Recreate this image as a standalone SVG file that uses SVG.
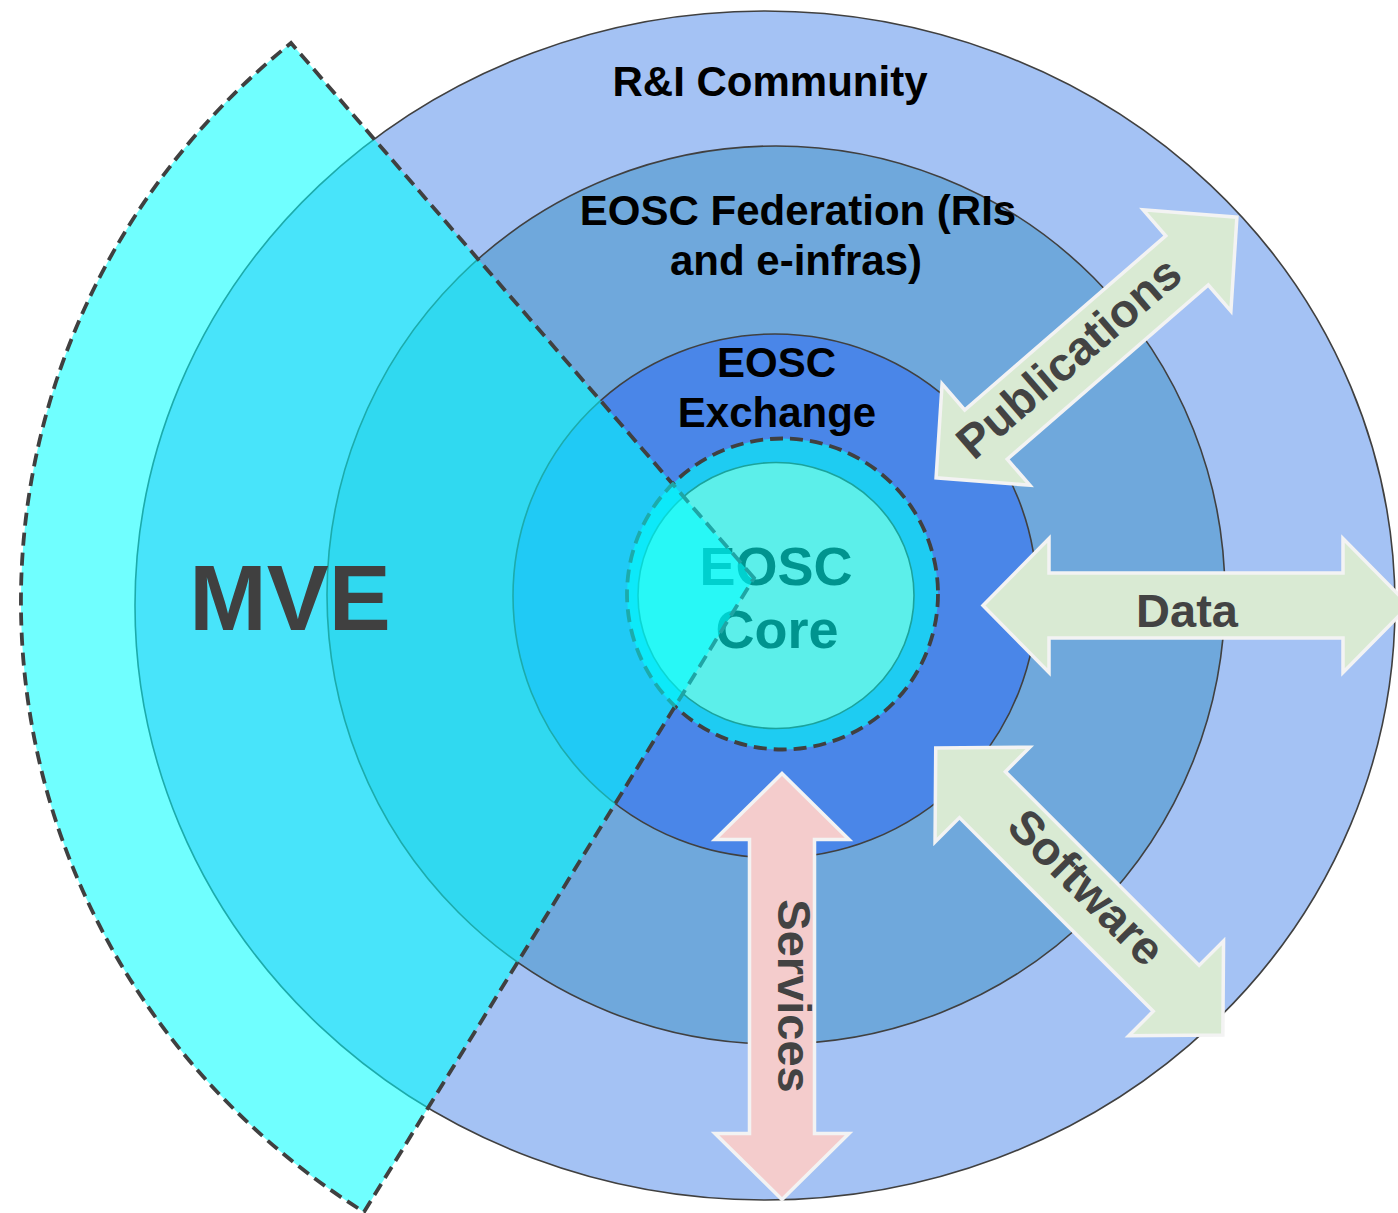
<svg xmlns="http://www.w3.org/2000/svg" width="1398" height="1213" viewBox="0 0 1398 1213">
<style>
.ring{stroke:#404040;stroke-width:1.6}
.lbl{font-family:"Liberation Sans",Arial,sans-serif;font-weight:bold;font-size:42px;fill:#000;text-anchor:middle}
.core{font-family:"Liberation Sans",Arial,sans-serif;font-weight:bold;font-size:54px;fill:#00948F;text-anchor:middle}
.arr{fill:#D9EAD3;stroke:#F3F3F3;stroke-width:3.5;stroke-linejoin:miter}
.arrp{fill:#F4CCCC;stroke:#F3F3F3;stroke-width:3.5;stroke-linejoin:miter}
.atx{font-family:"Liberation Sans",Arial,sans-serif;font-weight:bold;font-size:47px;fill:#434343;text-anchor:middle}
.dash{fill:none;stroke-width:3.8;stroke-dasharray:13 7}
</style>
<defs>
<mask id="outCore" maskUnits="userSpaceOnUse" x="0" y="0" width="1398" height="1213">
<rect x="0" y="0" width="1398" height="1213" fill="#fff"/>
<circle cx="782.5" cy="594" r="157" fill="#000"/>
</mask>
<clipPath id="inCore"><circle cx="782.5" cy="594" r="157"/></clipPath>
<path id="mvePath" d="M 754 578 L 291 43 A 745 725 0 0 0 364 1212 Z"/>
</defs>

<g id="ri-community">
<ellipse class="ring" cx="765" cy="605.5" rx="630" ry="594.5" fill="#A4C2F4"/>
<text class="lbl" x="770" y="96">R&amp;I Community</text>
</g>
<g id="eosc-federation">
<circle class="ring" cx="776" cy="595" r="449" fill="#6FA8DC"/>
<text class="lbl" x="798" y="225">EOSC Federation (RIs</text>
<text class="lbl" x="796" y="275">and e-infras)</text>
</g>
<g id="eosc-exchange">
<circle class="ring" cx="775" cy="596" r="262" fill="#4A86E8"/>
<text class="lbl" x="776.5" y="377">EOSC</text>
<text class="lbl" x="777" y="427">Exchange</text>
</g>
<g id="eosc-core">
<circle cx="782.5" cy="594" r="155.5" stroke="#404040" class="dash" style="fill:#1ECCF2"/>
<ellipse cx="776" cy="595.5" rx="138" ry="133" fill="#5CEFEA" stroke="#1BA39C" stroke-width="1.6"/>
<text class="core" x="776" y="585">EOSC</text>
<text class="core" x="777" y="648">Core</text>
</g>
<g id="mve">
<use href="#mvePath" fill="#00FFFF" fill-opacity="0.56"/>
<use href="#mvePath" class="dash" stroke="#404040" mask="url(#outCore)"/>
<use href="#mvePath" class="dash" stroke="#1FA5A5" clip-path="url(#inCore)"/>
<text x="290" y="630" style="font-family:'Liberation Sans',Arial,sans-serif;font-weight:bold;font-size:93px;fill:#404040;text-anchor:middle">MVE</text>
</g>

<g id="connectors">
<g id="publications" transform="translate(1086.5 347.5) rotate(-40.9)">
<polygon class="arr" points="-199,0 -133,-67 -133,-32.5 133,-32.5 133,-67 199,0 133,67 133,32.5 -133,32.5 -133,67"/>
<text class="atx" x="-20" y="12">Publications</text>
</g>
<g id="data" transform="translate(1196 605.5)">
<polygon class="arr" points="-213,0 -147,-67 -147,-32.5 147,-32.5 147,-67 213,0 147,67 147,32.5 -147,32.5 -147,67"/>
<text class="atx" x="-9" y="21">Data</text>
</g>
<g id="software" transform="translate(1079.3 891.5) rotate(45)">
<polygon class="arr" points="-203,0 -137,-67 -137,-32.5 137,-32.5 137,-67 203,0 137,67 137,32.5 -137,32.5 -137,67"/>
<text class="atx" x="2" y="8">Software</text>
</g>
<g id="services" transform="translate(782 986.5) rotate(90)">
<polygon class="arrp" points="-213,0 -147,-67 -147,-32.5 147,-32.5 147,-67 213,0 147,67 147,32.5 -147,32.5 -147,67"/>
<text class="atx" x="9.5" y="4">Services</text>
</g>
</g>
</svg>
